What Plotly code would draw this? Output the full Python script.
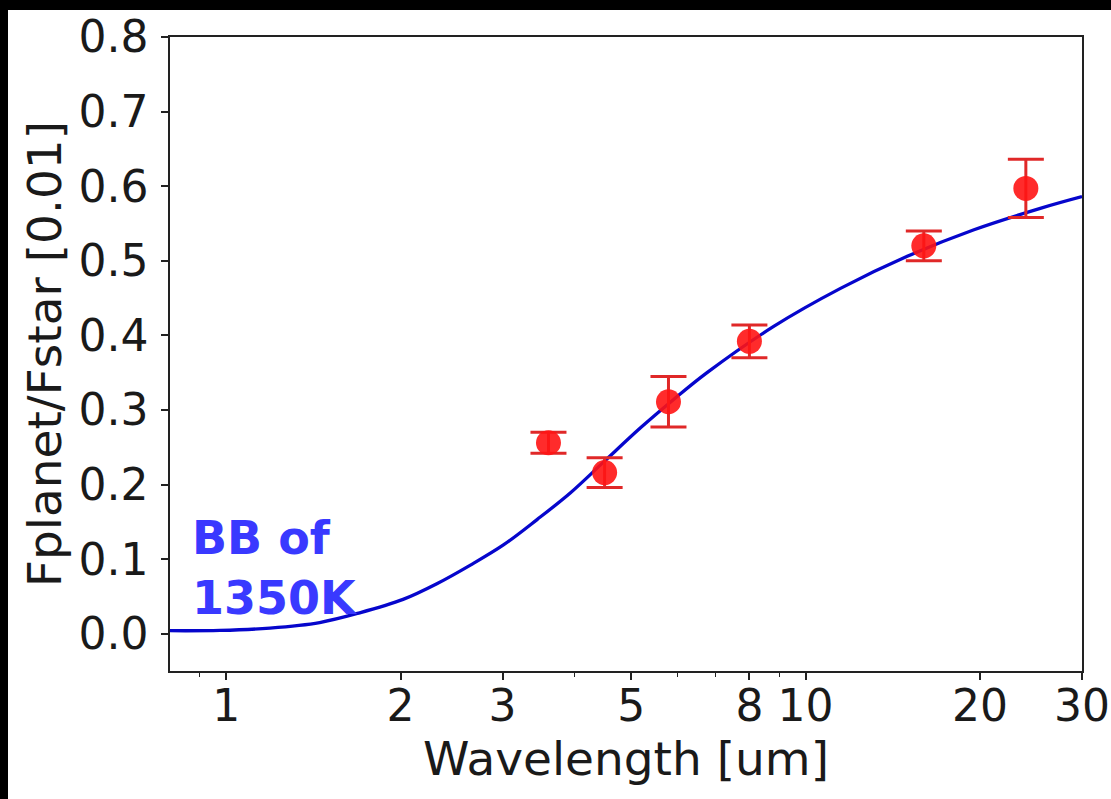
import plotly.graph_objects as go

# Blackbody model curve
curve_wl = [0.80, 0.976, 1.19, 1.45, 1.70, 2.02, 2.31, 2.64, 3.01, 3.44, 3.93, 4.48,
            5.19, 5.92, 6.76, 8.81, 11.49, 14.98, 19.53, 25.5, 30.0]
curve_f = [0.004, 0.0044, 0.0076, 0.015, 0.028, 0.046, 0.067, 0.092, 0.119, 0.153, 0.189, 0.230,
           0.276, 0.314, 0.350, 0.412, 0.463, 0.506, 0.5416, 0.5706, 0.586]

# Observed eclipse depths
obs_wl = [3.6, 4.5, 5.8, 8.0, 16.0, 24.0]
obs_f = [0.256, 0.216, 0.311, 0.392, 0.520, 0.597]
obs_err = [0.014, 0.020, 0.034, 0.022, 0.020, 0.039]

x_major = [1, 2, 3, 5, 8, 10, 20, 30]
x_minor = [0.9, 4, 6, 7, 9]
y_ticks = [0.0, 0.1, 0.2, 0.3, 0.4, 0.5, 0.6, 0.7, 0.8]

W, H = 1111, 799
L, R, T, B = 170, 29, 37, 128
pw, ph = W - L - R, H - T - B

def px_x(p):
    return (p - L) / pw

def px_y(p):
    return (H - B - p) / ph

fig = go.Figure()
fig.add_trace(go.Scatter(
    x=curve_wl, y=curve_f, mode="lines",
    line=dict(color="#0606cc", width=3.3, shape="spline", smoothing=1.0),
    showlegend=False, hoverinfo="skip"))
fig.add_trace(go.Scatter(
    x=obs_wl, y=obs_f, mode="markers",
    marker=dict(color="#ff1414", size=25, opacity=0.9, line=dict(width=0)),
    error_y=dict(type="data", array=obs_err, visible=True, color="#e02828",
                 thickness=3, width=18),
    showlegend=False))

font = "DejaVu Sans, Verdana, sans-serif"
fig.update_layout(
    width=W, height=H,
    margin=dict(l=L, r=R, t=T, b=B, autoexpand=False),
    paper_bgcolor="white", plot_bgcolor="white",
    font=dict(family=font, size=44, color="#1a1a1a"),
    xaxis=dict(
        type="log", range=[-0.09691, 1.47712],
        tickmode="array", tickvals=x_major, ticktext=[str(v) for v in x_major],
        ticks="outside", ticklen=7, tickwidth=1.5, tickcolor="#222",
        showline=True, linecolor="#222", linewidth=1.5, mirror=True,
        showgrid=False, zeroline=False,
        ticklabelstandoff=-12,
        minor=dict(tickmode="array", tickvals=x_minor, ticks="outside",
                   ticklen=4, tickwidth=1.2, tickcolor="#222", showgrid=False),
        title=dict(text="Wavelength [um]", font=dict(size=47), standoff=8),
        automargin=False,
    ),
    yaxis=dict(
        range=[-0.05, 0.8],
        tickmode="array", tickvals=y_ticks, tickformat=".1f",
        ticks="outside", ticklen=7, tickwidth=1.5, tickcolor="#222",
        showline=True, linecolor="#222", linewidth=1.5, mirror=True,
        showgrid=False, zeroline=False,
        ticklabelstandoff=4,
        title=dict(text="Fplanet/Fstar [0.01]", font=dict(size=47), standoff=2),
        automargin=False,
    ),
    annotations=[dict(
        xref="paper", yref="paper", x=px_x(190), y=px_y(568),
        xanchor="left", yanchor="middle", align="left", showarrow=False,
        text="<b>BB of<br>1350K</b>",
        font=dict(family=font, size=46, color="#3939ff"))],
    shapes=[
        dict(type="rect", xref="paper", yref="paper", layer="above",
             x0=px_x(0), x1=px_x(8), y0=px_y(H), y1=px_y(0),
             fillcolor="black", line=dict(width=0)),
        dict(type="rect", xref="paper", yref="paper", layer="above",
             x0=px_x(0), x1=px_x(W), y0=px_y(10), y1=px_y(0),
             fillcolor="black", line=dict(width=0)),
    ],
)

fig.write_html("out.html", config={"displayModeBar": False},
               post_script="document.body.style.margin='0';document.body.style.overflow='hidden';")
